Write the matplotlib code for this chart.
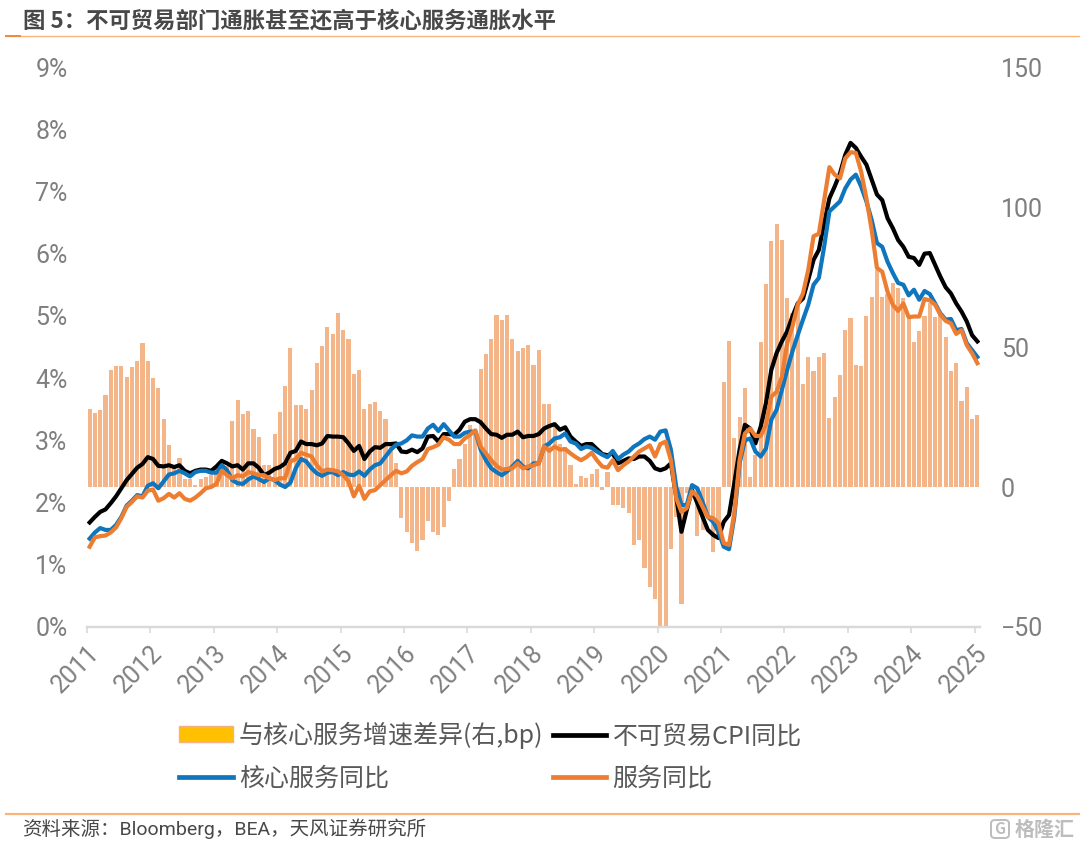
import numpy as np
import matplotlib
matplotlib.use("Agg")
import matplotlib.pyplot as plt
import matplotlib.patches as mpatches
from matplotlib.lines import Line2D
from matplotlib.ticker import PercentFormatter

plt.rcParams["font.family"] = ["Noto Sans CJK SC", "DejaVu Sans"]

W, H = 1080, 848

YEARS = list(range(2011, 2026))

# monthly, Jan 2011 - Jan 2025 (bp, right axis)
gap_bp = [
    27.7, 26.3, 27.4, 32.7, 41.7, 43.2, 43.1, 39.3, 42.9, 45, 51.5, 44.9,
    38.8, 35.4, 24.4, 15, 7, 10.4, 3, 3, 0.6, 2.7, 3.6, 4.2,
    5.7, 8.7, 7.5, 23.6, 31, 26, 27.3, 20.8, 17.9, 8, 8, 18.8,
    26.9, 36, 49.5, 29.4, 29.4, 28, 34.6, 44.4, 50.5, 57, 54.5, 62.3,
    56, 52.9, 40.4, 41.9, 27.9, 29.8, 30.4, 27, 24.4, 15, 8.7, -11,
    -16, -20, -23, -19, -12, -16, -17, -14.4, -5, 6.3, 10, 15.5,
    22, 20, 42.3, 47.6, 53, 61.5, 59.5, 61.3, 53, 48.5, 49.6, 50.8,
    43.5, 49, 29.5, 29.5, 22.6, 15.5, 14.3, 8, 1, 4, 3.3, 4.8,
    6.5, -1.2, 5.4, -6.3, -6.5, -7.5, -9.3, -20.6, -18.8, -29, -35.7, -40,
    -51, -51, -22, -10.7, -41.7, -2, -2.4, -17.6, -15.5, -11, -23.2, -16.7,
    37.4, 52.3, 17.4, 25, 35.2, 3.7, 11.4, 51.8, 72.5, 88, 93.8, 88.2,
    67.4, 62, 65, 36.7, 46.3, 41.5, 46.3, 47.7, 24.5, 32.3, 40, 56,
    60.2, 43.6, 43.2, 61.2, 67.7, 77.5, 68, 69, 73, 71.2, 67.4, 60.8,
    51.9, 55.7, 61, 65.6, 60.8, 62.6, 53.7, 41.5, 44.4, 30.7, 35.8, 24.2,
    25.7,
]

nontradable = [
    1.68, 1.77, 1.85, 1.89, 1.99, 2.10, 2.23, 2.36, 2.46, 2.56, 2.62, 2.73,
    2.70, 2.59, 2.58, 2.60, 2.57, 2.60, 2.51, 2.47, 2.51, 2.53, 2.53, 2.51,
    2.58, 2.67, 2.63, 2.58, 2.60, 2.53, 2.63, 2.63, 2.56, 2.44, 2.48, 2.54,
    2.57, 2.63, 2.80, 2.83, 2.98, 2.94, 2.94, 2.92, 2.95, 3.07, 3.06, 3.06,
    3.05, 2.95, 2.83, 2.91, 2.70, 2.82, 2.89, 2.88, 2.94, 2.94, 2.95, 2.82,
    2.81, 2.85, 2.81, 2.87, 3.06, 3.07, 2.98, 3.10, 3.10, 3.09, 3.17, 3.30,
    3.34, 3.34, 3.29, 3.19, 3.10, 3.09, 3.04, 3.09, 3.09, 3.14, 3.05, 3.07,
    3.07, 3.10, 3.19, 3.23, 3.26, 3.17, 3.21, 3.06, 2.98, 2.91, 2.94, 2.94,
    2.86, 2.78, 2.76, 2.79, 2.63, 2.67, 2.71, 2.70, 2.74, 2.74, 2.67, 2.55,
    2.52, 2.55, 2.63, 2.10, 1.53, 1.88, 2.20, 1.99, 1.77, 1.56, 1.48, 1.43,
    1.69, 1.80, 2.31, 2.85, 3.25, 3.19, 2.95, 3.22, 3.60, 4.13, 4.40, 4.59,
    4.75, 4.99, 5.20, 5.28, 5.58, 5.90, 6.06, 6.49, 6.89, 7.08, 7.29, 7.59,
    7.78, 7.70, 7.56, 7.43, 7.19, 6.95, 6.86, 6.57, 6.41, 6.22, 6.11, 5.95,
    5.93, 5.82, 6.00, 6.01, 5.82, 5.63, 5.46, 5.36, 5.20, 5.07, 4.91, 4.69,
    4.59,
]

core_services = [
    1.42, 1.52, 1.59, 1.56, 1.56, 1.64, 1.77, 1.95, 2.03, 2.12, 2.10, 2.27,
    2.31, 2.23, 2.34, 2.45, 2.47, 2.51, 2.47, 2.42, 2.49, 2.51, 2.51, 2.48,
    2.48, 2.60, 2.52, 2.36, 2.31, 2.30, 2.37, 2.42, 2.38, 2.33, 2.39, 2.36,
    2.29, 2.25, 2.32, 2.55, 2.70, 2.66, 2.55, 2.47, 2.43, 2.48, 2.49, 2.44,
    2.49, 2.45, 2.44, 2.50, 2.43, 2.53, 2.60, 2.63, 2.74, 2.85, 2.93, 2.95,
    3.00, 3.08, 3.06, 3.06, 3.19, 3.25, 3.15, 3.26, 3.16, 3.06, 3.06, 3.12,
    3.14, 3.14, 2.85, 2.68, 2.55, 2.49, 2.44, 2.50, 2.58, 2.67, 2.58, 2.55,
    2.63, 2.63, 2.90, 2.95, 3.03, 3.05, 3.11, 2.98, 2.95, 2.86, 2.90, 2.88,
    2.82, 2.77, 2.73, 2.83, 2.70, 2.77, 2.82, 2.90, 2.95, 3.02, 3.06, 3.01,
    3.14, 3.16, 2.85, 2.26, 1.96, 1.96, 2.28, 2.23, 2.01, 1.77, 1.69, 1.53,
    1.29, 1.25, 1.77, 2.63, 3.00, 3.03, 2.82, 2.74, 2.87, 3.33, 3.49, 3.81,
    4.13, 4.43, 4.69, 4.94, 5.18, 5.50, 5.61, 6.11, 6.68, 6.76, 6.84, 7.05,
    7.19, 7.27, 7.08, 6.84, 6.54, 6.17, 6.11, 5.87, 5.69, 5.53, 5.50, 5.33,
    5.42, 5.26, 5.40, 5.35, 5.20, 5.04, 4.94, 4.95, 4.77, 4.79, 4.56, 4.45,
    4.34,
]

services = [
    1.29, 1.44, 1.46, 1.47, 1.52, 1.60, 1.75, 1.93, 2.01, 2.10, 2.08, 2.19,
    2.21, 2.03, 2.07, 2.14, 2.08, 2.15, 2.06, 2.03, 2.08, 2.15, 2.23, 2.25,
    2.30, 2.51, 2.44, 2.39, 2.44, 2.42, 2.49, 2.47, 2.44, 2.44, 2.39, 2.36,
    2.39, 2.39, 2.66, 2.70, 2.80, 2.77, 2.74, 2.60, 2.50, 2.53, 2.52, 2.50,
    2.44, 2.34, 2.10, 2.27, 2.06, 2.18, 2.20, 2.28, 2.36, 2.44, 2.51, 2.47,
    2.50, 2.59, 2.65, 2.70, 2.86, 2.89, 2.93, 3.05, 3.01, 2.94, 2.94, 3.03,
    3.09, 3.16, 2.90, 2.79, 2.68, 2.59, 2.53, 2.54, 2.55, 2.63, 2.55, 2.58,
    2.60, 2.63, 2.90, 2.83, 2.90, 2.85, 2.86, 2.79, 2.73, 2.68, 2.73, 2.80,
    2.68, 2.58, 2.56, 2.68, 2.52, 2.60, 2.66, 2.74, 2.82, 2.87, 2.92, 2.74,
    2.94, 2.98, 2.68, 2.07, 1.85, 1.91, 2.18, 2.10, 1.93, 1.77, 1.75, 1.67,
    1.35, 1.32, 1.83, 2.68, 3.11, 3.19, 3.07, 3.07, 3.25, 3.70, 3.78, 4.02,
    4.56, 4.83, 5.18, 5.36, 5.74, 6.28, 6.32, 6.86, 7.39, 7.27, 7.21, 7.53,
    7.63, 7.62, 7.32, 6.89, 6.38, 5.77, 5.71, 5.39, 5.18, 5.08, 5.20, 4.98,
    4.99, 4.99, 5.27, 5.25, 5.18, 5.02, 4.92, 4.88, 4.71, 4.77, 4.53, 4.40,
    4.24,
]

BAR_COLOR = "#F4B183"
BLUE = "#0F75BC"
ORANGE = "#ED7D31"
AXIS_GRAY = "#D9D9D9"
TICK_TEXT = "#7F7F7F"
RULE = "#F9B47C"
WATERMARK = "#BDBDBD"
TICK_FONT = ["Roboto", "DejaVu Sans"]

fig = plt.figure(figsize=(W / 100, H / 100), dpi=100)

# axes placed in pixels of the reference
left, right, top, bottom = 87, 980, 67, 627
ax = fig.add_axes([left / W, 1 - bottom / H, (right - left) / W, (bottom - top) / H])
ax2 = ax.twinx()
ax.set_zorder(ax2.get_zorder() + 1)
ax.patch.set_visible(False)

x = np.arange(len(gap_bp))
ax2.bar(x, gap_bp, width=0.78, color=BAR_COLOR, alpha=0.95, linewidth=0)

ax.plot(x, nontradable, color="black", lw=3, solid_joinstyle="round")
ax.plot(x, core_services, color=BLUE, lw=3, solid_joinstyle="round")
ax.plot(x, services, color=ORANGE, lw=3, solid_joinstyle="round")

ax.set_xlim(-0.5, len(gap_bp) - 0.5)
ax.set_ylim(0, 9)
ax2.set_ylim(-50, 150)
ax.yaxis.set_major_formatter(PercentFormatter(decimals=0))
ax.set_yticks(range(10))
ax2.set_yticks(range(-50, 151, 50))

ax.set_xticks(np.arange(len(YEARS)) * 12 - 0.5)
ax.set_xticklabels(YEARS, rotation=45, ha="right", rotation_mode="anchor",
                   family=TICK_FONT, fontsize=18, color=TICK_TEXT)
ax.tick_params(axis="x", length=4, width=1.2, color=AXIS_GRAY, pad=6)
ax.tick_params(axis="y", length=0, pad=14, labelcolor=TICK_TEXT)
ax2.tick_params(axis="y", length=0, pad=15, labelcolor=TICK_TEXT)
for lab in ax.get_yticklabels() + ax2.get_yticklabels():
    lab.set_family(TICK_FONT)
    lab.set_fontsize(18)

for a in (ax, ax2):
    for name in ("top", "left", "right"):
        a.spines[name].set_visible(False)
    a.spines["bottom"].set_color(AXIS_GRAY)
    a.spines["bottom"].set_linewidth(1.6)

# legend
handles = [
    mpatches.Patch(facecolor="#FFC000", edgecolor=BAR_COLOR, linewidth=1),
    Line2D([], [], color=BLUE, lw=3.4),
    Line2D([], [], color="black", lw=3.4),
    Line2D([], [], color=ORANGE, lw=3.4),
]
labels = ["与核心服务增速差异(右,bp)", "核心服务同比", "不可贸易CPI同比", "服务同比"]
fig.legend(handles, labels, ncol=2, loc="upper left",
           bbox_to_anchor=(179 / W, 1 - 722 / H), frameon=False, fontsize=18,
           labelcolor="#595959", handlelength=2.15, handleheight=0.6,
           handletextpad=0.25, columnspacing=0.36, labelspacing=0.66,
           borderpad=0, borderaxespad=0)

# title and rules
fig.text(23 / W, 1 - 21 / H, "图 5：不可贸易部门通胀甚至还高于核心服务通胀水平",
         fontsize=16.1, fontweight="bold", color="#484848", va="center", ha="left")
fig.add_artist(Line2D([6 / W, 1], [1 - 36 / H] * 2, color=RULE, lw=1))
fig.add_artist(Line2D([6 / W, 20 / W], [1 - 36 / H] * 2, color="#F08A3C", lw=1.4))
fig.add_artist(Line2D([6 / W, 1], [1 - 813.5 / H] * 2, color=RULE, lw=1.6))

# source and watermark
fig.text(22 / W, 1 - 829 / H, "资料来源：Bloomberg，BEA，天风证券研究所",
         fontsize=14, family=["Roboto", "Noto Sans CJK SC"], color="#484848",
         va="center", ha="left")
fig.add_artist(mpatches.FancyBboxPatch(
    (991 / W, 1 - 838 / H), 18 / W, 18 / H, boxstyle="round,pad=0,rounding_size=0.004",
    transform=fig.transFigure, facecolor="none", edgecolor=WATERMARK, linewidth=1.4))
fig.text(1000 / W, 1 - 829 / H, "G", fontsize=11, color=WATERMARK,
         va="center", ha="center", fontweight="bold")
fig.text(1015 / W, 1 - 829 / H, "格隆汇", fontsize=14.4, color=WATERMARK,
         va="center", ha="left", fontweight="bold")

fig.savefig("out.png", dpi=100)
